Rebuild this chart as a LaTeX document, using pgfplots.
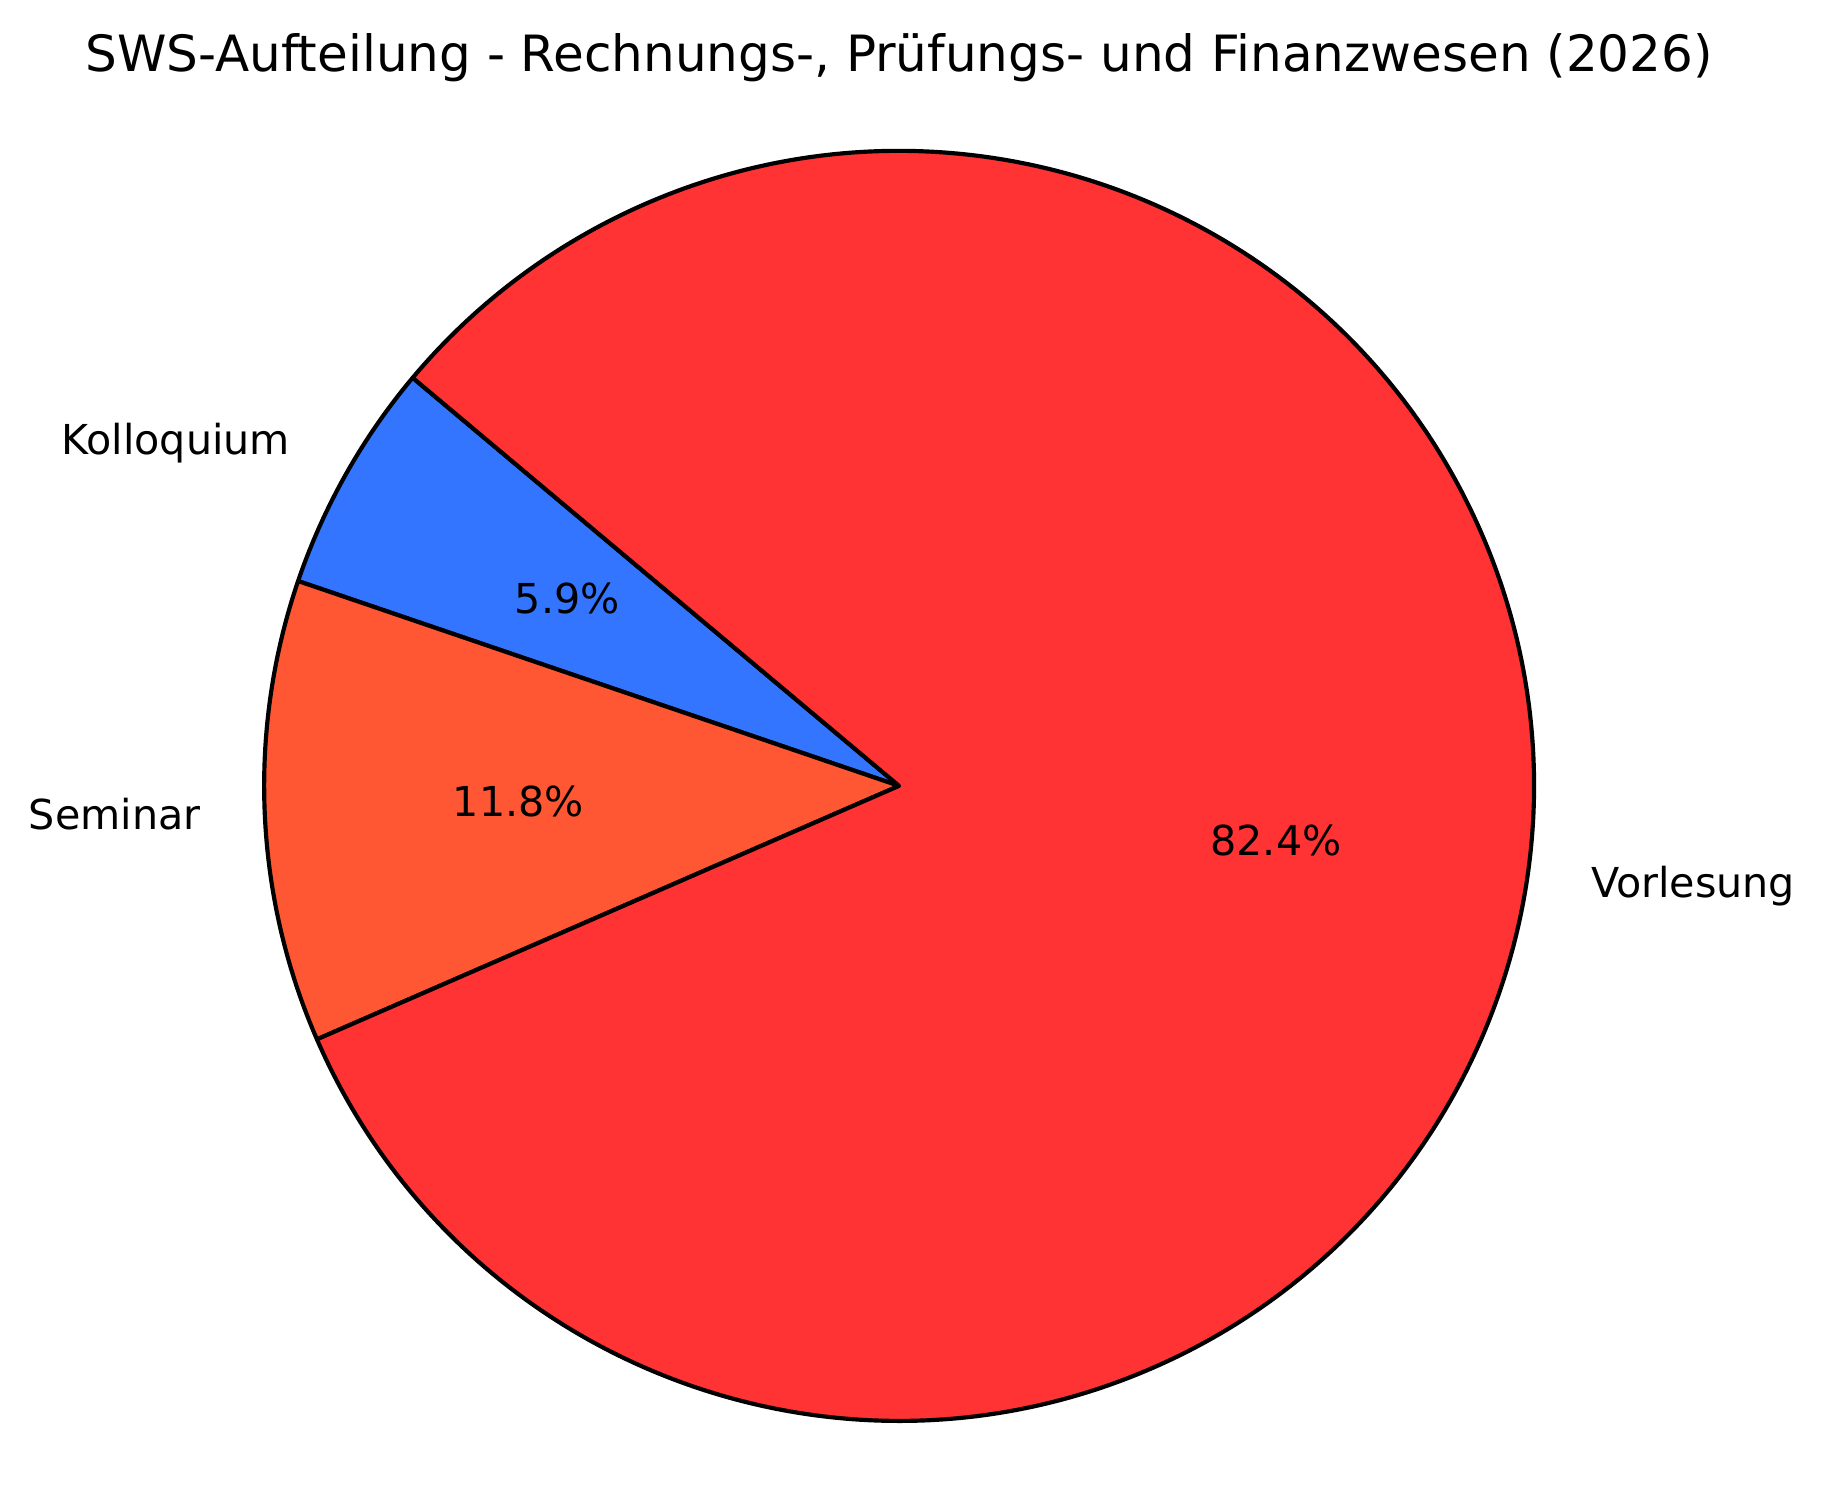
\documentclass[border=0pt]{standalone}
\usepackage{pgfplots}
\usepackage{pgfplotstable}
\pgfplotsset{compat=1.18}
\usepackage{fontspec}
\setmainfont{DejaVu Sans}

\definecolor{colV}{HTML}{FF3333}
\definecolor{colS}{HTML}{FF5733}
\definecolor{colK}{HTML}{3375FF}

% SWS per type (counter-clockwise from 140 deg)
\pgfplotstableread{
label value
Kolloquium 1
Seminar 2
Vorlesung 14
}\swsdata

\begin{document}
\begin{tikzpicture}
\pgfplotstablegetelem{0}{value}\of\swsdata \let\vK\pgfplotsretval
\pgfplotstablegetelem{1}{value}\of\swsdata \let\vS\pgfplotsretval
\pgfplotstablegetelem{2}{value}\of\swsdata \let\vV\pgfplotsretval
\pgfmathsetmacro\tot{\vK+\vS+\vV}
\pgfmathsetmacro\aA{140}
\pgfmathsetmacro\aB{\aA+360*\vK/\tot}
\pgfmathsetmacro\aC{\aB+360*\vS/\tot}
\pgfmathsetmacro\aD{\aC+360*\vV/\tot}
\pgfmathsetmacro\mK{(\aA+\aB)/2}
\pgfmathsetmacro\mS{(\aB+\aC)/2}
\pgfmathsetmacro\mV{(\aC+\aD)/2}
\pgfmathsetmacro\pK{100*\vK/\tot}
\pgfmathsetmacro\pS{100*\vS/\tot}
\pgfmathsetmacro\pV{100*\vV/\tot}
\begin{axis}[
	x=152.4pt, y=152.4pt,
	scale only axis,
	xmin=-1.416, xmax=1.46,
	ymin=-1.1385, ymax=1.2378,
	hide axis,
	clip=false,
]
\path (rel axis cs:0,0) rectangle (rel axis cs:1,1);

\filldraw[fill=colK, draw=black, line width=1pt, line join=round]
	(axis cs:0,0) -- (axis cs:{cos(\aA)},{sin(\aA)})
	arc[start angle=\aA, end angle=\aB, radius=152.4pt] -- cycle;
\filldraw[fill=colS, draw=black, line width=1pt, line join=round]
	(axis cs:0,0) -- (axis cs:{cos(\aB)},{sin(\aB)})
	arc[start angle=\aB, end angle=\aC, radius=152.4pt] -- cycle;
\filldraw[fill=colV, draw=black, line width=1pt, line join=round]
	(axis cs:0,0) -- (axis cs:{cos(\aC)},{sin(\aC)})
	arc[start angle=\aC, end angle=\aD, radius=152.4pt] -- cycle;

\pgfkeys{/pgf/number format/.cd, fixed, fixed zerofill, precision=1, assume math mode=true}
\tikzset{lbl/.style={inner sep=0pt, font=\fontsize{9.9}{11}\selectfont}}
\node[lbl, anchor=east]
	at (axis cs:{1.1*cos(\mK)},{1.1*sin(\mK)}) {Kolloquium};
\node[lbl, anchor=east]
	at (axis cs:{1.1*cos(\mS)},{1.1*sin(\mS)}) {Seminar};
\node[lbl, anchor=west]
	at (axis cs:{1.1*cos(\mV)},{1.1*sin(\mV)}) {Vorlesung};
\node[lbl]
	at (axis cs:{0.6*cos(\mK)},{0.6*sin(\mK)}) {\pgfmathprintnumber{\pK}\%};
\node[lbl]
	at (axis cs:{0.6*cos(\mS)},{0.6*sin(\mS)}) {\pgfmathprintnumber{\pS}\%};
\node[lbl]
	at (axis cs:{0.6*cos(\mV)},{0.6*sin(\mV)}) {\pgfmathprintnumber{\pV}\%};

\node[anchor=base, inner sep=0pt, font=\fontsize{12}{14}\selectfont]
	at (axis cs:0,1.1244) {SWS-Aufteilung - Rechnungs-, Prüfungs- und Finanzwesen (2026)};
\end{axis}
\end{tikzpicture}
\end{document}
